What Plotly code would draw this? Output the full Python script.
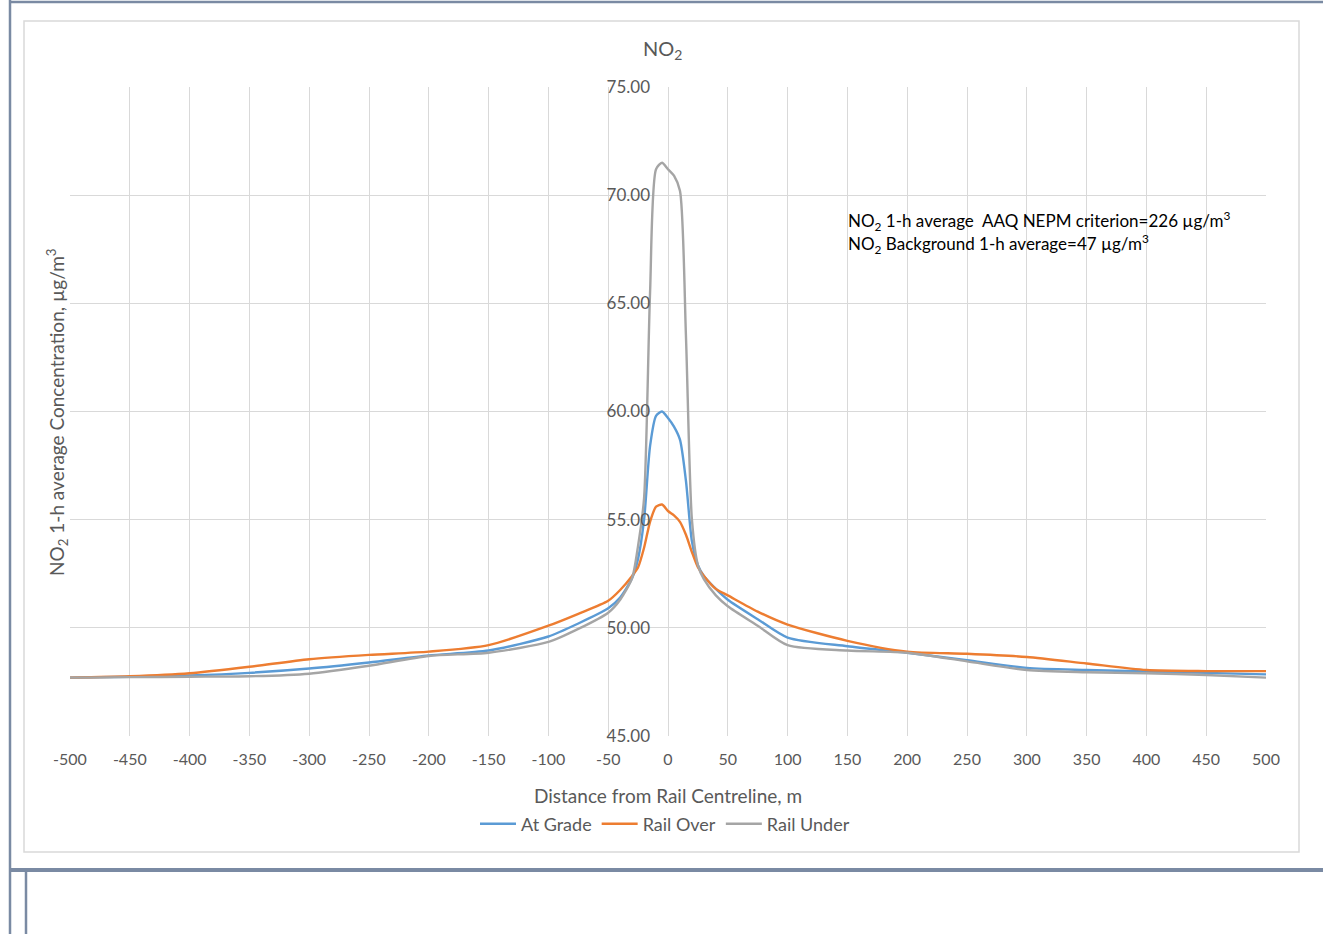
import plotly.graph_objects as go

# ---------------- data ----------------
distance = [-500, -450, -400, -350, -300, -250, -200, -150, -100, -75, -50, -40, -30, -25,
            -20, -15, -10, -5, 0, 5, 10, 15, 20, 25, 30, 40, 50, 75, 100, 150, 200, 250,
            300, 350, 400, 450, 500]

at_grade = [47.70, 47.74, 47.80, 47.92, 48.12, 48.40, 48.72, 48.95, 49.60, 50.20, 50.90, 51.40,
            52.30, 53.20, 55.00, 58.40, 59.80, 60.00, 59.70, 59.30, 58.70, 56.80, 54.00, 52.90,
            52.40, 51.80, 51.30, 50.40, 49.55, 49.15, 48.85, 48.50, 48.15, 48.05, 47.98, 47.92,
            47.85]

rail_over = [47.70, 47.76, 47.90, 48.20, 48.55, 48.75, 48.90, 49.20, 50.10, 50.65, 51.25, 51.75,
             52.40, 52.80, 53.70, 54.90, 55.60, 55.70, 55.40, 55.20, 54.90, 54.30, 53.50, 52.80,
             52.40, 51.80, 51.50, 50.75, 50.15, 49.40, 48.90, 48.80, 48.65, 48.35, 48.05, 48.00,
             48.00]

rail_under = [47.70, 47.72, 47.74, 47.76, 47.88, 48.25, 48.70, 48.85, 49.35, 49.95, 50.70, 51.30,
              52.30, 53.80, 56.00, 65.50, 71.20, 71.50, 71.20, 70.90, 70.20, 63.50, 55.00, 52.90,
              52.25, 51.50, 51.00, 50.10, 49.20, 48.95, 48.85, 48.45, 48.05, 47.95, 47.90, 47.82,
              47.70]

series_names = ["At Grade", "Rail Over", "Rail Under"]
series_values = [at_grade, rail_over, rail_under]
series_colors = ["#5B9BD5", "#ED7D31", "#A5A5A5"]

x_ticks = list(range(-500, 501, 50))
y_ticks = [45, 50, 55, 60, 65, 70, 75]

chart_title = "NO<sub>2</sub>"
x_title = "Distance from Rail Centreline, m"
y_title = "NO<sub>2</sub> 1-h average Concentration, µg/m<sup>3</sup>"
note_lines = ["NO<sub>2</sub> 1-h average  AAQ NEPM criterion=226 µg/m<sup>3</sup>",
              "NO<sub>2</sub> Background 1-h average=47 µg/m<sup>3</sup>"]

# ---------------- figure ----------------
W, H = 1323, 934
L, R, T, B = 70, 1266, 87, 736
FONT = "Lato"
TXT = "#595959"

fig = go.Figure()
for name, vals, col in zip(series_names, series_values, series_colors):
    fig.add_trace(go.Scatter(
        x=distance, y=vals, name=name, mode="lines",
        line=dict(color=col, width=2.4, shape="spline", smoothing=0.7),
    ))


def px_x(X):
    return (X - L) / (R - L)


def px_y(Y):
    return (B - Y) / (B - T)


frame = "#7A8AA3"
shapes = [
    # chart box
    dict(type="rect", xref="paper", yref="paper", x0=px_x(24), x1=px_x(1299), y0=px_y(852),
         y1=px_y(21), line=dict(color="#D9D9D9", width=1.5), layer="below"),
    # page frame lines
    dict(type="line", xref="paper", yref="paper", x0=px_x(9), x1=px_x(1325), y0=px_y(2), y1=px_y(2),
         line=dict(color=frame, width=2.5)),
    dict(type="line", xref="paper", yref="paper", x0=px_x(10), x1=px_x(10), y0=px_y(0), y1=px_y(936),
         line=dict(color=frame, width=2.5)),
    dict(type="line", xref="paper", yref="paper", x0=px_x(9), x1=px_x(1325), y0=px_y(870), y1=px_y(870),
         line=dict(color=frame, width=4)),
    dict(type="line", xref="paper", yref="paper", x0=px_x(26), x1=px_x(26), y0=px_y(870), y1=px_y(936),
         line=dict(color=frame, width=2.5)),
]

annotations = [
    dict(text=chart_title, xref="paper", yref="paper", x=px_x(662), y=px_y(50), showarrow=False,
         font=dict(family=FONT, size=20, color=TXT), xanchor="center", yanchor="middle"),
    dict(text=x_title, xref="paper", yref="paper", x=px_x(668), y=px_y(795), showarrow=False,
         font=dict(family=FONT, size=19, color=TXT), xanchor="center", yanchor="middle"),
    dict(text=y_title, xref="paper", yref="paper", x=px_x(57), y=px_y(412), showarrow=False,
         textangle=-90, font=dict(family=FONT, size=19, color=TXT), xanchor="center", yanchor="middle"),
    dict(text=note_lines[0], xref="paper", yref="paper", x=px_x(846), y=px_y(221), showarrow=False,
         font=dict(family=FONT, size=17, color="#000000"), xanchor="left", yanchor="middle"),
    dict(text=note_lines[1], xref="paper", yref="paper", x=px_x(846), y=px_y(244), showarrow=False,
         font=dict(family=FONT, size=17, color="#000000"), xanchor="left", yanchor="middle"),
]

fig.update_layout(
    width=W, height=H,
    margin=dict(l=L, r=W - R, t=T, b=H - B, autoexpand=False),
    paper_bgcolor="white", plot_bgcolor="white",
    font=dict(family=FONT, color=TXT),
    showlegend=True,
    legend=dict(orientation="h", x=px_x(665), y=px_y(824), xanchor="center", yanchor="middle",
                font=dict(family=FONT, size=18, color=TXT), itemwidth=36, tracegroupgap=0,
                bgcolor="rgba(0,0,0,0)"),
    shapes=shapes,
    annotations=annotations,
    xaxis=dict(range=[-500, 500], tickmode="array", tickvals=x_ticks,
               ticktext=[str(v) for v in x_ticks], showgrid=True, gridcolor="#D9D9D9",
               gridwidth=1, zeroline=False, showline=False, ticks="",
               ticklabelstandoff=12, tickfont=dict(family=FONT, size=16, color=TXT)),
    yaxis=dict(range=[45, 75], tickmode="array", tickvals=y_ticks,
               ticktext=["%.2f" % v for v in y_ticks], showgrid=True, gridcolor="#D9D9D9",
               gridwidth=1, zeroline=False, showline=False, ticks="",
               anchor="free", position=0.5, side="left",
               ticklabelstandoff=18, tickfont=dict(family=FONT, size=17, color=TXT)),
)

fig.write_html("out.html", config={"displayModeBar": False},
               post_script="document.body.style.margin='0';")
